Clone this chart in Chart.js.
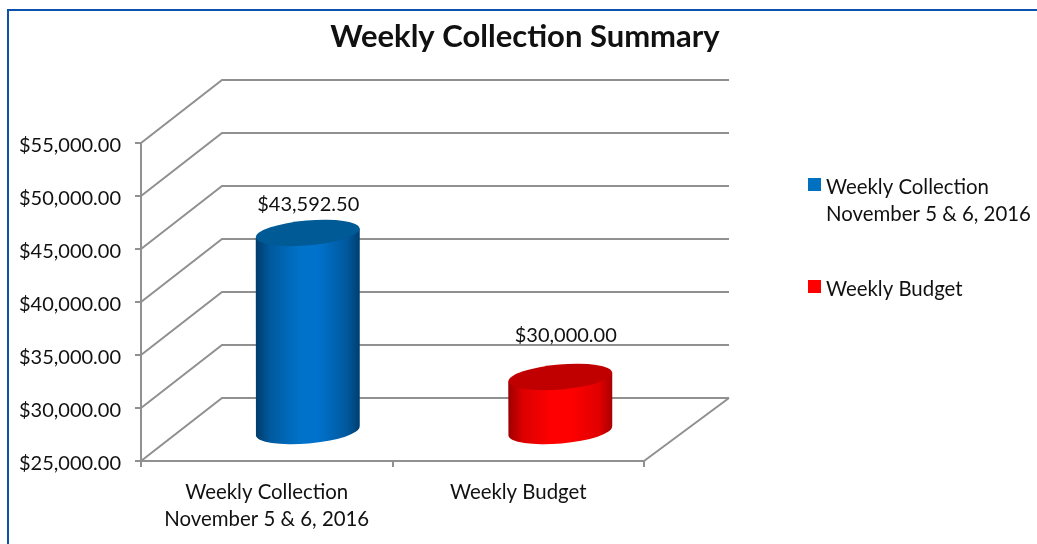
<!DOCTYPE html>
<html>
<head>
<meta charset="utf-8">
<title>Weekly Collection Summary</title>
<script src="https://cdn.jsdelivr.net/npm/chart.js@4"></script>
<style>
  html, body { margin: 0; padding: 0; background: #fff; overflow: hidden; }
  #wrap { position: relative; width: 1037px; height: 544px; }
  #frame { position: absolute; left: 7px; top: 9px; right: 0; bottom: 0;
           border-left: 2px solid #0b52ad; border-top: 2px solid #0b52ad; }
  canvas { position: absolute; left: 0; top: 0; }
</style>
</head>
<body>
<div id="wrap">
  <div id="frame"></div>
  <canvas id="chart" width="1037" height="544"></canvas>
</div>
<script>
// -- THE DATA --
const chartTitle = "Weekly Collection Summary";
const categories = [["Weekly Collection", "November 5 & 6, 2016"], "Weekly Budget"];
const values = [43592.50, 30000.00];
const tickValues = [25000, 30000, 35000, 40000, 45000, 50000, 55000];

// -- THE LOOK --
const fontName = "Lato, 'Open Sans', sans-serif";
const sideColors = [
  ["#003c6c", "#005a9e", "#0072c8", "#0072cc", "#00589c", "#003e70"],
  ["#9c0000", "#dc0000", "#ff0000", "#ff0000", "#e00000", "#a80000"]
];
const sideStops = [0, 0.14, 0.42, 0.6, 0.88, 1];
const swatchColors = ["#0070c0", "#ff0000"];
const topColors = ["#005a96", "#c00000"];
const gridColor = "#909090";
const depth = { x: 81, y: -63 };   // how far back the floor goes
const ringTilt = -0.0865, ringRy = 12.5;
const labelLift = [28, 41];
const labelShift = [1, 7];
const barShift = [0.5, 1.5];

const money = v => "$" + v.toLocaleString("en-US", { minimumFractionDigits: 2, maximumFractionDigits: 2 });

// walls and floor, built from the chart's own scales
const wallsPlugin = {
  id: "walls",
  beforeDatasetsDraw(chart) {
    const { ctx, scales: { y }, chartArea: a } = chart;
    ctx.save();
    ctx.strokeStyle = gridColor;
    ctx.lineWidth = 2;
    tickValues.forEach(v => {
      const py = y.getPixelForValue(v);
      ctx.beginPath();
      ctx.moveTo(a.left, py);
      ctx.lineTo(a.left + depth.x, py + depth.y);
      ctx.lineTo(a.right + depth.x + 4, py + depth.y);
      ctx.stroke();
    });
    // right edge of the floor
    ctx.beginPath();
    ctx.moveTo(a.right, a.bottom);
    ctx.lineTo(a.right + depth.x + 4, a.bottom + depth.y);
    ctx.stroke();
    ctx.restore();
  }
};

// cylinders instead of the flat bars
const cylinderPlugin = {
  id: "cylinder",
  beforeDatasetDraw(chart, args) {
    const { ctx, chartArea: a } = chart;
    args.meta.data.forEach((bar, i) => {
      const cx = bar.x + depth.x / 2 + barShift[i];
      const rx = bar.width / 2;
      const topY = bar.y + depth.y / 2 + 0.5;
      const baseY = a.bottom + depth.y / 2 + 1.5;
      const g = ctx.createLinearGradient(cx - rx, 0, cx + rx, 0);
      sideStops.forEach((s, k) => g.addColorStop(s, sideColors[i][k]));
      const dy = Math.sin(ringTilt) * rx;
      ctx.save();
      ctx.fillStyle = g;
      ctx.beginPath();
      ctx.moveTo(cx - rx, topY - dy);
      ctx.lineTo(cx + rx, topY + dy);
      ctx.lineTo(cx + rx, baseY + dy);
      ctx.ellipse(cx, baseY, rx, ringRy, ringTilt, 0, Math.PI);
      ctx.closePath();
      ctx.fill();
      ctx.fillStyle = topColors[i];
      ctx.beginPath();
      ctx.ellipse(cx, topY, rx, ringRy, ringTilt, 0, Math.PI * 2);
      ctx.fill();
      ctx.restore();
    });
    return false;
  }
};

// title, value labels and legend
const textPlugin = {
  id: "texts",
  afterDraw(chart) {
    const { ctx } = chart;
    const meta = chart.getDatasetMeta(0);
    ctx.save();
    ctx.textBaseline = "middle";
    ctx.fillStyle = "#111";

    ctx.textAlign = "center";
    ctx.font = "bold 31px " + fontName;
    ctx.fillText(chartTitle, 525, 37);

    ctx.font = "20px " + fontName;
    meta.data.forEach((bar, i) => {
      ctx.fillText(money(values[i]), bar.x + depth.x / 2 + labelShift[i], bar.y + depth.y / 2 - labelLift[i]);
    });

    ctx.textAlign = "left";
    ctx.font = "20.4px " + fontName;
    let ly = 187;
    categories.forEach((c, i) => {
      const lines = Array.isArray(c) ? c : [c];
      ctx.fillStyle = swatchColors[i];
      ctx.fillRect(808, ly - 9, 13, 13);
      ctx.fillStyle = "#111";
      lines.forEach((t, j) => ctx.fillText(t, 826, ly + j * 27));
      ly += 102;
    });
    ctx.restore();
  }
};

// -- THE CHART --
new Chart(document.getElementById("chart").getContext("2d"), {
  type: "bar",
  data: {
    labels: categories,
    datasets: [{
      data: values,
      backgroundColor: swatchColors,
      barPercentage: 0.4135,
      categoryPercentage: 1
    }]
  },
  options: {
    responsive: false,
    animation: false,
    events: [],
    layout: { padding: { top: 143, right: 393, bottom: 0, left: 0 } },
    plugins: { legend: { display: false }, title: { display: false }, tooltip: { enabled: false } },
    scales: {
      x: {
        grid: { offset: true, drawOnChartArea: false, color: gridColor, lineWidth: 2, tickLength: 6 },
        border: { color: gridColor, width: 2 },
        ticks: { color: "#111", padding: 12, maxRotation: 0, autoSkip: false, font: { family: fontName, size: 20.4, lineHeight: 1.33 } },
        afterFit: s => { s.height = 83; }
      },
      y: {
        min: 25000,
        max: 55000,
        grid: { drawOnChartArea: false, color: gridColor, lineWidth: 2, tickLength: 6 },
        border: { color: gridColor, width: 2 },
        afterBuildTicks: s => { s.ticks = tickValues.map(v => ({ value: v })); },
        ticks: { color: "#111", padding: 14, labelOffset: 3, font: { family: fontName, size: 20 }, callback: v => money(v) },
        afterFit: s => { s.width = 141; }
      }
    }
  },
  plugins: [wallsPlugin, cylinderPlugin, textPlugin]
});
</script>
</body>
</html>
